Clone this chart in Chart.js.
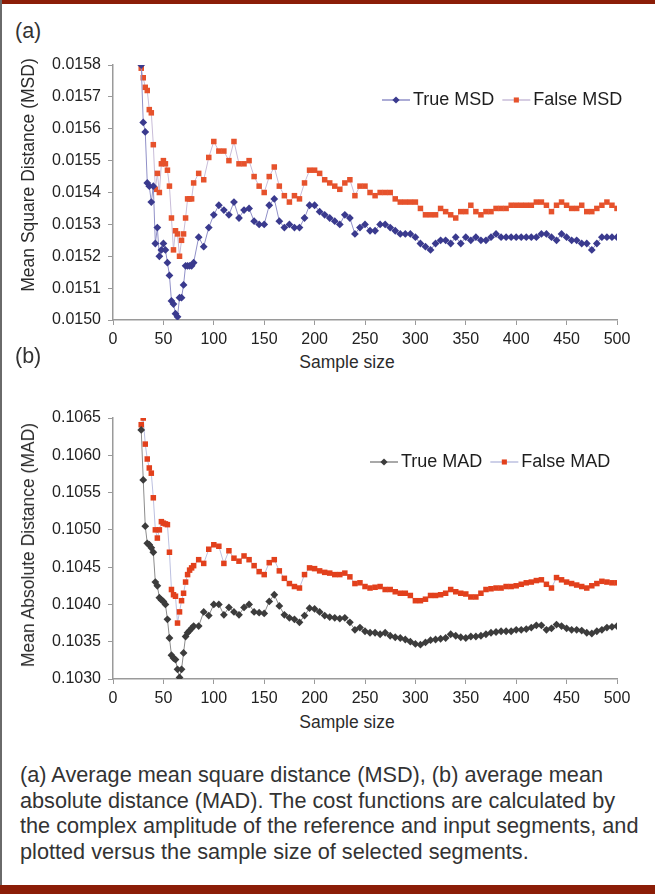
<!DOCTYPE html>
<html>
<head>
<meta charset="utf-8">
<script src="https://cdn.jsdelivr.net/npm/chart.js@4.4.1/dist/chart.umd.min.js"></script>
<style>
  html, body { margin: 0; padding: 0; background: #fff; }
  #page { position: relative; width: 655px; height: 894px; overflow: hidden;
          font-family: "Liberation Sans", Arial, Helvetica, sans-serif; color: #2b2b2b; }
  .bar { position: absolute; left: 0; width: 655px; background: #8b1d07; }
  .edge { position: absolute; left: 0; top: 0; width: 2px; height: 894px; background: #6a6a6a; }
  .lbl { position: absolute; font-size: 17.5px; line-height: 20px; white-space: nowrap; }
  .panel { position: absolute; font-size: 21.5px; line-height: 24px; white-space: nowrap; color: #333; }
  .ctr { transform: translate(-50%, -50%); }
  .rot { transform: translate(-50%, -50%) rotate(-90deg); }
  .chartbox { position: absolute; left: 0; }
  #caption { position: absolute; left: 20px; top: 762px; font-size: 21.7px; line-height: 25.5px;
             white-space: nowrap; color: #333; }
</style>
</head>
<body>
<div id="page">
  <div class="bar" style="top:0;height:4px"></div>
  <div class="edge"></div>

  <div class="panel" style="left:15px;top:19px">(a)</div>
  <div class="chartbox" style="top:45px"><canvas id="msdChart" width="655" height="305"></canvas></div>
  <div class="lbl rot" style="left:28px;top:175px">Mean Square Distance (MSD)</div>
  <div class="lbl ctr" style="left:347px;top:362px">Sample size</div>

  <div class="panel" style="left:15px;top:344px">(b)</div>
  <div class="chartbox" style="top:398px"><canvas id="madChart" width="655" height="311"></canvas></div>
  <div class="lbl rot" style="left:28px;top:545px">Mean Absolute Distance (MAD)</div>
  <div class="lbl ctr" style="left:347px;top:722px">Sample size</div>

  <div id="caption">(a) Average mean square distance (MSD), (b) average mean<br>absolute distance (MAD). The cost functions are calculated by<br>the complex amplitude of the reference and input segments, and<br>plotted versus the sample size of selected segments.</div>

  <div class="bar" style="top:885px;height:9px"></div>
</div>

<script>
// Sample sizes on the x axis (denser at the start where the curves change fast)
const sampleSizes = [
  28, 30, 32, 34, 36, 38, 40, 42, 44, 46, 48, 50, 52, 54, 56, 58, 60, 62, 64, 66, 68, 70, 72, 74, 76, 78, 80,
  85, 90, 95, 100, 105, 110, 115, 120, 125, 130, 135, 140, 145, 150, 155, 160, 165, 170, 175, 180, 185, 190, 195, 200,
  205, 210, 215, 220, 225, 230, 235, 240, 245, 250, 255, 260, 265, 270, 275, 280, 285, 290, 295, 300,
  305, 310, 315, 320, 325, 330, 335, 340, 345, 350, 355, 360, 365, 370, 375, 380, 385, 390, 395, 400,
  405, 410, 415, 420, 425, 430, 435, 440, 445, 450, 455, 460, 465, 470, 475, 480, 485, 490, 495, 500
];

// (a) mean square distance
const trueMSD = [
  0.01580, 0.01562, 0.01559, 0.01543, 0.01542, 0.01537, 0.01542, 0.01524, 0.01529, 0.01520, 0.01522, 0.01524, 0.01522, 0.01518,
  0.01514, 0.01506, 0.01505, 0.01502, 0.01501, 0.01507, 0.01507, 0.01511, 0.01517, 0.01517, 0.01517, 0.01517, 0.01518,
  0.01526, 0.01523, 0.01529, 0.01533, 0.01536, 0.015345, 0.01533, 0.01537, 0.01532, 0.015345, 0.01535, 0.01531,
  0.01530, 0.01530, 0.01536, 0.01538, 0.01531, 0.01529, 0.01530, 0.01529, 0.01529, 0.01532, 0.01536, 0.01536,
  0.01534, 0.01533, 0.01532, 0.01531, 0.01530, 0.01533, 0.01532, 0.01527, 0.01529, 0.01530,
  0.01528, 0.01528, 0.01530, 0.01530, 0.01529, 0.01528, 0.01527, 0.01527, 0.01527, 0.01526,
  0.01524, 0.01523, 0.01522, 0.01524, 0.01525, 0.01525, 0.01524, 0.01526, 0.01524, 0.01526,
  0.01525, 0.01526, 0.01525, 0.01525, 0.01526, 0.01527, 0.01526, 0.01526, 0.01526, 0.01526,
  0.01526, 0.01526, 0.01526, 0.01526, 0.01527, 0.01527, 0.01526, 0.01525, 0.01527, 0.01526,
  0.01525, 0.01525, 0.01524, 0.01524, 0.01522, 0.01524, 0.01526, 0.01526, 0.01526, 0.01526
];
const falseMSD = [
  0.01579, 0.01576, 0.01573, 0.01572, 0.01566, 0.01565, 0.01555, 0.01541, 0.01546, 0.01540, 0.01549, 0.01550, 0.01549, 0.01547,
  0.01542, 0.01532, 0.01522, 0.01528, 0.01527, 0.01520, 0.01525, 0.01527, 0.01532, 0.01538, 0.01538, 0.01538, 0.01543,
  0.01546, 0.01544, 0.01551, 0.01556, 0.01553, 0.01553, 0.01550, 0.01556, 0.01549, 0.01549, 0.01550, 0.01545,
  0.01542, 0.01540, 0.01545, 0.01548, 0.01542, 0.01539, 0.01537, 0.01539, 0.01538, 0.01543, 0.01547, 0.01547,
  0.01546, 0.01544, 0.01543, 0.01542, 0.01541, 0.01543, 0.01544, 0.01539, 0.01542, 0.01542,
  0.01540, 0.01539, 0.01540, 0.01540, 0.01540, 0.01538, 0.01537, 0.01537, 0.01537, 0.01537,
  0.01535, 0.01533, 0.01533, 0.01533, 0.01535, 0.01534, 0.01533, 0.01532, 0.01534, 0.01534,
  0.01536, 0.01534, 0.01533, 0.01534, 0.01534, 0.01535, 0.01535, 0.01535, 0.01536, 0.01536,
  0.01536, 0.01536, 0.01536, 0.01537, 0.01537, 0.01536, 0.01534, 0.01536, 0.01537, 0.01536,
  0.01535, 0.01535, 0.01536, 0.01534, 0.01534, 0.01535, 0.01536, 0.01537, 0.01536, 0.01535
];

// (b) mean absolute distance
const trueMAD = [
  0.10634, 0.10567, 0.10505, 0.10482, 0.10480, 0.10476, 0.10470, 0.10430, 0.10425, 0.10409, 0.10406, 0.10404, 0.10400, 0.10380,
  0.10355, 0.10332, 0.10328, 0.10326, 0.10313, 0.10302, 0.10313, 0.10335, 0.10357, 0.10362, 0.10365, 0.10368, 0.10371,
  0.10371, 0.10390, 0.10385, 0.10400, 0.10400, 0.10386, 0.10396, 0.10390, 0.10386, 0.10396, 0.10400, 0.10390,
  0.10389, 0.10388, 0.10404, 0.10413, 0.10398, 0.10386, 0.10382, 0.10380, 0.10376, 0.10385, 0.10395, 0.10394,
  0.10390, 0.10385, 0.10383, 0.10382, 0.10381, 0.10382, 0.10376, 0.10366, 0.10369, 0.10364,
  0.10362, 0.10362, 0.10360, 0.10362, 0.10358, 0.10356, 0.10355, 0.10353, 0.10350, 0.10347,
  0.10346, 0.10349, 0.10352, 0.10353, 0.10354, 0.10355, 0.10360, 0.10358, 0.10356, 0.10355,
  0.10357, 0.10357, 0.10358, 0.10360, 0.10362, 0.10363, 0.10364, 0.10364, 0.10364, 0.10366,
  0.10366, 0.10367, 0.10369, 0.10372, 0.10372, 0.10366, 0.10368, 0.10373, 0.10371, 0.10368,
  0.10366, 0.10366, 0.10365, 0.10362, 0.10361, 0.10364, 0.10366, 0.10369, 0.10370, 0.10371
];
const falseMAD = [
  0.10641, 0.10650, 0.10615, 0.10595, 0.10583, 0.10576, 0.10543, 0.10500, 0.10489, 0.10500, 0.10511, 0.10509, 0.10508, 0.10507,
  0.10470, 0.10420, 0.10413, 0.10411, 0.10375, 0.10390, 0.10405, 0.10415, 0.10430, 0.10440, 0.10446, 0.10449, 0.10452,
  0.10460, 0.10455, 0.10474, 0.10480, 0.10478, 0.10455, 0.10472, 0.10462, 0.10458, 0.10465, 0.10460, 0.10452,
  0.10444, 0.10440, 0.10456, 0.10460, 0.10445, 0.10435, 0.10428, 0.10424, 0.10422, 0.10440, 0.10449, 0.10448,
  0.10445, 0.10443, 0.10442, 0.10440, 0.10440, 0.10442, 0.10437, 0.10428, 0.10429, 0.10424,
  0.10422, 0.10423, 0.10424, 0.10420, 0.10420, 0.10417, 0.10415, 0.10415, 0.10412, 0.10405,
  0.10405, 0.10407, 0.10412, 0.10412, 0.10413, 0.10415, 0.10420, 0.10417, 0.10415, 0.10414,
  0.10410, 0.10410, 0.10415, 0.10420, 0.10421, 0.10422, 0.10422, 0.10424, 0.10424, 0.10425,
  0.10427, 0.10429, 0.10430, 0.10432, 0.10433, 0.10427, 0.10422, 0.10436, 0.10433, 0.10430,
  0.10428, 0.10426, 0.10424, 0.10422, 0.10425, 0.10428, 0.10431, 0.10430, 0.10429, 0.10429
];

const FONT = '"Liberation Sans", Arial, Helvetica, sans-serif';

// pair each value with its sample size
function toPoints(values) {
  return sampleSizes.map((s, i) => ({ x: s, y: values[i] }));
}

// small diamond / square marker, used by the legend
function drawMarker(ctx, style, x, y, r, color) {
  ctx.fillStyle = color;
  ctx.beginPath();
  if (style === 'rectRot') {
    ctx.moveTo(x, y - r); ctx.lineTo(x + r, y); ctx.lineTo(x, y + r); ctx.lineTo(x - r, y);
  } else {
    const h = r * Math.SQRT1_2;
    ctx.rect(x - h, y - h, 2 * h, 2 * h);
  }
  ctx.closePath();
  ctx.fill();
}

// legend drawn inside the plot: short line with a marker, then the label
const lineLegend = {
  id: 'lineLegend',
  afterDraw(chart, args, opts) {
    const ctx = chart.ctx;
    let x = opts.x;
    const y = opts.y;
    ctx.save();
    ctx.font = '18px ' + FONT;
    ctx.textBaseline = 'middle';
    chart.data.datasets.forEach(ds => {
      ctx.strokeStyle = ds.borderColor;
      ctx.lineWidth = 1.5;
      ctx.beginPath(); ctx.moveTo(x, y); ctx.lineTo(x + 28, y); ctx.stroke();
      drawMarker(ctx, ds.pointStyle, x + 14, y, 3.6, ds.pointBackgroundColor);
      ctx.fillStyle = '#1e1e1e';
      ctx.fillText(ds.label, x + 31, y);
      x += 31 + ctx.measureText(ds.label).width + 8;
    });
    ctx.restore();
  }
};

function series(label, values, marker, line, style) {
  return {
    label: label,
    data: toPoints(values),
    borderColor: line,
    borderWidth: 1,
    pointStyle: style,
    pointRadius: 3.9,
    pointBorderWidth: 0,
    pointBackgroundColor: marker,
    pointBorderColor: marker,
    tension: 0
  };
}

function makeChart(id, datasets, yMin, yMax, yStep, legendPos) {
  const axisColor = '#9a9a9a';
  return new Chart(document.getElementById(id), {
    type: 'line',
    data: { datasets: datasets },
    plugins: [lineLegend],
    options: {
      responsive: false,
      animation: false,
      devicePixelRatio: 1,
      layout: { padding: { top: 20, right: 38, bottom: 0, left: 0 } },
      plugins: {
        legend: { display: false },
        tooltip: { enabled: false },
        lineLegend: legendPos
      },
      scales: {
        x: {
          type: 'linear',
          min: 0, max: 500,
          ticks: { stepSize: 50, color: '#222', font: { family: FONT, size: 16 }, padding: 5, maxRotation: 0 },
          grid: { display: true, drawOnChartArea: false, drawTicks: true, tickLength: 5, color: axisColor },
          border: { color: axisColor, width: 1.5 },
          afterFit: s => { s.height = 30; }
        },
        y: {
          min: yMin, max: yMax,
          ticks: { stepSize: yStep, color: '#222', font: { family: FONT, size: 16 }, padding: 7,
                   callback: v => v.toFixed(4) },
          grid: { display: true, drawOnChartArea: false, drawTicks: true, tickLength: 5, color: axisColor },
          border: { color: axisColor, width: 1.5 },
          afterFit: s => { s.width = 113; }
        }
      }
    }
  });
}

makeChart('msdChart', [
  series('True MSD', trueMSD, '#3a3a8e', '#9090c8', 'rectRot'),
  series('False MSD', falseMSD, '#e6522c', '#c8bcd8', 'rect')
], 0.0150, 0.0158, 0.0001, { x: 382, y: 55 });

makeChart('madChart', [
  series('True MAD', trueMAD, '#3c3c3c', '#8c8c8c', 'rectRot'),
  series('False MAD', falseMAD, '#e2401c', '#bcc0e0', 'rect')
], 0.1030, 0.1065, 0.0005, { x: 370, y: 64 });
</script>
</body>
</html>
